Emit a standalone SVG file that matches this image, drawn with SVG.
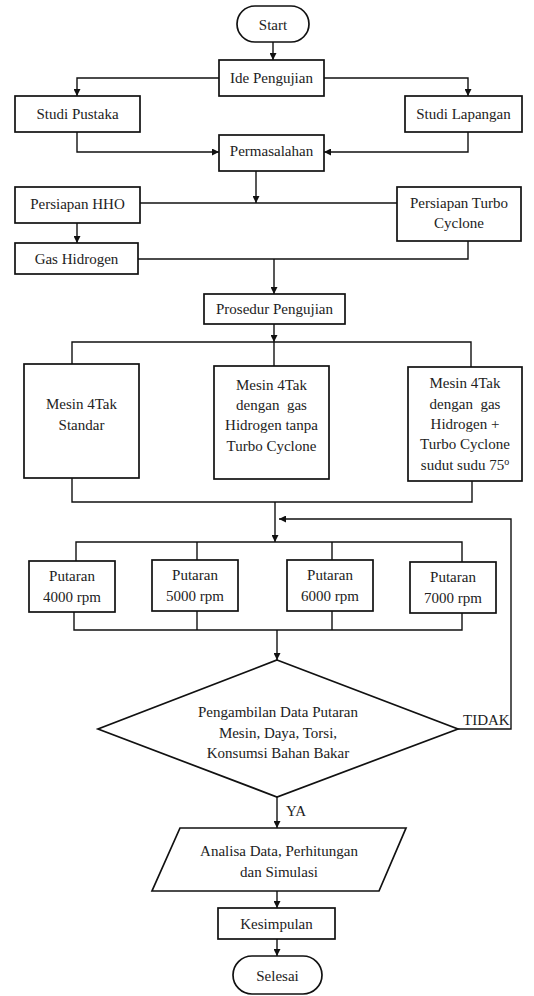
<svg xmlns="http://www.w3.org/2000/svg" width="534" height="996" viewBox="0 0 534 996">
<style>
  .box{fill:#fff;stroke:#111;stroke-width:1.7}
  .ln{fill:none;stroke:#111;stroke-width:1.4}
  text{font-family:'Liberation Serif','Tinos','Times New Roman','Noto Serif','DejaVu Serif',serif;font-size:15px;fill:#222}
  .t{text-anchor:middle}
</style>
<defs>
  <marker id="ah" viewBox="0 0 10 10" refX="10" refY="5" markerWidth="7" markerHeight="7" markerUnits="userSpaceOnUse" orient="auto">
    <path d="M0,0 L10,5 L0,10 z" fill="#111"/>
  </marker>
</defs>
<rect width="534" height="996" fill="#fff"/>

<g id="connectors">
  <path class="ln" d="M273,42 V60" marker-end="url(#ah)"/>
  <path class="ln" d="M219,78 H77 V96" marker-end="url(#ah)"/>
  <path class="ln" d="M324,78 H468 V96" marker-end="url(#ah)"/>
  <path class="ln" d="M77,132 V152 H219" marker-end="url(#ah)"/>
  <path class="ln" d="M468,132 V152 H324" marker-end="url(#ah)"/>
  <path class="ln" d="M256,171 V203" marker-end="url(#ah)"/>
  <path class="ln" d="M140,203 H397"/>
  <path class="ln" d="M77,223 V243" marker-end="url(#ah)"/>
  <path class="ln" d="M138,259 H468 V241"/>
  <path class="ln" d="M274,259 V294" marker-end="url(#ah)"/>
  <path class="ln" d="M274,324 V342" marker-end="url(#ah)"/>
  <path class="ln" d="M72,364 V342 H471 V367"/>
  <path class="ln" d="M274,342 V366"/>
  <path class="ln" d="M72,478 V502 H472 V481"/>
  <path class="ln" d="M275,502 V542" marker-end="url(#ah)"/>
  <path class="ln" d="M76,561 V542 H462 V562"/>
  <path class="ln" d="M197,542 V560"/>
  <path class="ln" d="M332,542 V560"/>
  <path class="ln" d="M74,612 V630 H462 V613"/>
  <path class="ln" d="M197,611 V630"/>
  <path class="ln" d="M332,611 V630"/>
  <path class="ln" d="M277,630 V660" marker-end="url(#ah)"/>
  <path class="ln" d="M458,729 H511 V519 H279" marker-end="url(#ah)"/>
  <path class="ln" d="M277,797 V828" marker-end="url(#ah)"/>
  <path class="ln" d="M277,891 V908" marker-end="url(#ah)"/>
  <path class="ln" d="M277,939 V956" marker-end="url(#ah)"/>
  <text x="463" y="725">TIDAK</text>
  <text x="286" y="816">YA</text>
</g>

<g id="start">
  <rect class="box" x="237" y="6" width="72" height="36" rx="18"/>
  <text class="t" x="273" y="30">Start</text>
</g>
<g id="ide">
  <rect class="box" x="219" y="60" width="105" height="36"/>
  <text class="t" x="271.5" y="83">Ide Pengujian</text>
</g>
<g id="pustaka">
  <rect class="box" x="15" y="96" width="125" height="36"/>
  <text class="t" x="77.5" y="119">Studi Pustaka</text>
</g>
<g id="lapangan">
  <rect class="box" x="405" y="96" width="117" height="36"/>
  <text class="t" x="463.5" y="119">Studi Lapangan</text>
</g>
<g id="permasalahan">
  <rect class="box" x="219" y="135" width="105" height="36"/>
  <text class="t" x="271.5" y="156">Permasalahan</text>
</g>
<g id="hho">
  <rect class="box" x="15" y="187" width="125" height="36"/>
  <text class="t" x="77.5" y="209">Persiapan HHO</text>
</g>
<g id="turbo">
  <rect class="box" x="397" y="187" width="124" height="54"/>
  <text class="t" x="459" y="208">Persiapan Turbo</text>
  <text class="t" x="459" y="228">Cyclone</text>
</g>
<g id="gas">
  <rect class="box" x="15" y="243" width="123" height="31"/>
  <text class="t" x="76.5" y="264">Gas Hidrogen</text>
</g>
<g id="prosedur">
  <rect class="box" x="204" y="294" width="141" height="30"/>
  <text class="t" x="274.5" y="314">Prosedur Pengujian</text>
</g>
<g id="mesin1">
  <rect class="box" x="24" y="364" width="115" height="114"/>
  <text class="t" x="81.5" y="409">Mesin 4Tak</text>
  <text class="t" x="81.5" y="430">Standar</text>
</g>
<g id="mesin2">
  <rect class="box" x="214" y="366" width="115" height="113"/>
  <text class="t" x="271.5" y="390">Mesin 4Tak</text>
  <text class="t" x="271.5" y="410" xml:space="preserve">dengan  gas</text>
  <text class="t" x="271.5" y="430">Hidrogen tanpa</text>
  <text class="t" x="271.5" y="451">Turbo Cyclone</text>
</g>
<g id="mesin3">
  <rect class="box" x="408" y="367" width="114" height="114"/>
  <text class="t" x="465" y="388">Mesin 4Tak</text>
  <text class="t" x="465" y="409" xml:space="preserve">dengan  gas</text>
  <text class="t" x="465" y="429">Hidrogen +</text>
  <text class="t" x="465" y="449">Turbo Cyclone</text>
  <text class="t" x="465" y="470">sudut sudu 75<tspan font-size="10" dy="-5">o</tspan></text>
</g>
<g id="p4000">
  <rect class="box" x="29" y="561" width="86" height="51"/>
  <text class="t" x="72" y="581">Putaran</text>
  <text class="t" x="72" y="602">4000 rpm</text>
</g>
<g id="p5000">
  <rect class="box" x="152" y="560" width="86" height="51"/>
  <text class="t" x="195" y="580">Putaran</text>
  <text class="t" x="195" y="601">5000 rpm</text>
</g>
<g id="p6000">
  <rect class="box" x="287" y="560" width="86" height="51"/>
  <text class="t" x="330" y="580">Putaran</text>
  <text class="t" x="330" y="601">6000 rpm</text>
</g>
<g id="p7000">
  <rect class="box" x="410" y="562" width="86" height="51"/>
  <text class="t" x="453" y="582">Putaran</text>
  <text class="t" x="453" y="603">7000 rpm</text>
</g>
<g id="keputusan">
  <polygon class="box" points="277,660 458,729 277,797 98,729"/>
  <text class="t" x="278" y="717">Pengambilan Data Putaran</text>
  <text class="t" x="278" y="738">Mesin, Daya, Torsi,</text>
  <text class="t" x="278" y="758">Konsumsi Bahan Bakar</text>
</g>
<g id="analisa">
  <polygon class="box" points="180,828 406,828 379,891 152,891"/>
  <text class="t" x="279" y="856">Analisa Data, Perhitungan</text>
  <text class="t" x="279" y="877">dan Simulasi</text>
</g>
<g id="kesimpulan">
  <rect class="box" x="218" y="908" width="117" height="31"/>
  <text class="t" x="276.5" y="929">Kesimpulan</text>
</g>
<g id="selesai">
  <rect class="box" x="233" y="956" width="89" height="38" rx="19"/>
  <text class="t" x="277.5" y="981">Selesai</text>
</g>
</svg>
